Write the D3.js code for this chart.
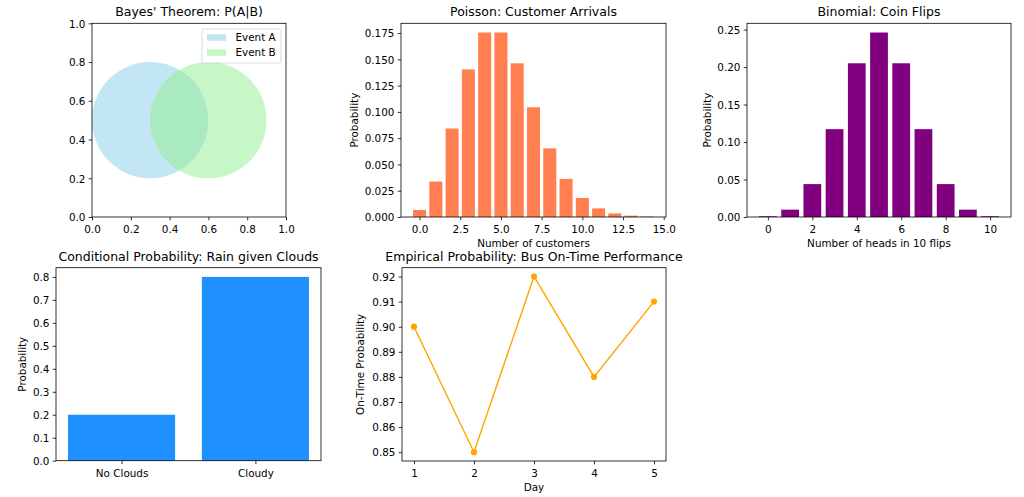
<!DOCTYPE html>
<html>
<head>
<meta charset="utf-8">
<script src="https://cdn.jsdelivr.net/npm/d3@7"></script>
<style>
  html, body { margin: 0; padding: 0; background: #fff; }
  svg { display: block; }
  text { font-family: "DejaVu Sans", sans-serif; fill: #000; }
</style>
</head>
<body>
<svg id="chart" width="1024" height="497"></svg>
<script>
// ---------- DATA ----------
// Venn (Bayes)
const vennLabels = ["Event A", "Event B"];
const vennCx = [0.3, 0.6];
const vennCy = [0.5, 0.5];
const vennR = [0.3, 0.3];
const vennColors = ["#87CEEB", "#90EE90"];
const vennTicks = [0, 0.2, 0.4, 0.6, 0.8, 1.0];

// Poisson
const poissonK = [0,1,2,3,4,5,6,7,8,9,10,11,12,13,14];
const poissonP = [0.0067,0.0337,0.0842,0.1404,0.1755,0.1755,0.1462,0.1044,0.0653,0.0363,0.0181,0.0082,0.0034,0.0013,0.0005];
const poissonXTicks = [0, 2.5, 5, 7.5, 10, 12.5, 15];
const poissonYTicks = [0, 0.025, 0.05, 0.075, 0.1, 0.125, 0.15, 0.175];

// Binomial
const binomK = [0,1,2,3,4,5,6,7,8,9,10];
const binomP = [0.00098,0.0098,0.0439,0.1172,0.2051,0.2461,0.2051,0.1172,0.0439,0.0098,0.00098];
const binomXTicks = [0, 2, 4, 6, 8, 10];
const binomYTicks = [0, 0.05, 0.10, 0.15, 0.20, 0.25];

// Conditional
const condCategories = ["No Clouds", "Cloudy"];
const condValues = [0.2, 0.8];
const condYTicks = [0, 0.1, 0.2, 0.3, 0.4, 0.5, 0.6, 0.7, 0.8];

// Empirical
const days = [1, 2, 3, 4, 5];
const onTime = [0.90, 0.85, 0.92, 0.88, 0.91];
const empYTicks = [0.85, 0.86, 0.87, 0.88, 0.89, 0.90, 0.91, 0.92];

// ---------- DRAW ----------
const svg = d3.select("#chart");
const TICK = 10.4, TITLE = 12.5, TL = 3.3, TP = 3.3;

function makeAxes(box, xDomain, yDomain, opts) {
  const g = svg.append("g");
  const x = d3.scaleLinear().domain(xDomain).range([box.x0, box.x1]);
  const y = d3.scaleLinear().domain(yDomain).range([box.y1, box.y0]);
  const plot = g.append("g");
  // x axis
  const xa = g.append("g").attr("transform", `translate(0,${box.y1})`)
    .call(d3.axisBottom(x).tickValues(opts.xTicks).tickFormat(opts.xFmt)
      .tickSizeInner(TL).tickSizeOuter(0).tickPadding(TP));
  xa.select(".domain").remove();
  xa.selectAll("line").attr("stroke", "#000").attr("stroke-width", 0.8);
  xa.selectAll("text").attr("font-size", TICK).attr("dy", null).attr("y", 16.3)
    .attr("font-family", "DejaVu Sans").attr("fill", "#000");
  // y axis
  const ya = g.append("g").attr("transform", `translate(${box.x0},0)`)
    .call(d3.axisLeft(y).tickValues(opts.yTicks).tickFormat(opts.yFmt)
      .tickSizeInner(TL).tickSizeOuter(0).tickPadding(TP));
  ya.select(".domain").remove();
  ya.selectAll("line").attr("stroke", "#000").attr("stroke-width", 0.8);
  ya.selectAll("text").attr("font-size", TICK).attr("dy", "0.36em")
    .attr("font-family", "DejaVu Sans").attr("fill", "#000");
  // frame
  g.append("rect").attr("x", box.x0).attr("y", box.y0)
    .attr("width", box.x1 - box.x0).attr("height", box.y1 - box.y0)
    .attr("fill", "none").attr("stroke", "#000").attr("stroke-width", 0.8);
  // title
  g.append("text").attr("x", (box.x0 + box.x1) / 2).attr("y", box.y0 - 7)
    .attr("text-anchor", "middle").attr("font-size", TITLE).text(opts.title);
  if (opts.xlabel) {
    g.append("text").attr("x", (box.x0 + box.x1) / 2).attr("y", box.y1 + 30)
      .attr("text-anchor", "middle").attr("font-size", TICK).text(opts.xlabel);
  }
  if (opts.ylabel) {
    const cx = box.x0 - opts.ylabelOff, cy = (box.y0 + box.y1) / 2;
    g.append("text").attr("transform", `translate(${cx},${cy}) rotate(-90)`)
      .attr("dy", "0.3em").attr("text-anchor", "middle").attr("font-size", TICK).text(opts.ylabel);
  }
  return { g, plot, x, y };
}

// 1. Venn
{
  const box = { x0: 92, x1: 286, y0: 23.3, y1: 217 };
  const { g, plot, x, y } = makeAxes(box, [0, 1], [0, 1], {
    xTicks: vennTicks, yTicks: vennTicks, xFmt: d3.format(".1f"), yFmt: d3.format(".1f"),
    title: "Bayes' Theorem: P(A|B)"
  });
  plot.selectAll("circle").data(vennCx).join("circle")
    .attr("cx", d => x(d)).attr("cy", (d, i) => y(vennCy[i]))
    .attr("r", (d, i) => x(vennR[i]) - x(0))
    .attr("fill", (d, i) => vennColors[i]).attr("fill-opacity", 0.5);
  // legend
  const lg = g.append("g");
  lg.append("rect").attr("x", 202).attr("y", 29).attr("width", 79).attr("height", 34)
    .attr("rx", 2).attr("fill", "#fff").attr("fill-opacity", 0.8)
    .attr("stroke", "#d0d0d0").attr("stroke-width", 0.8);
  vennLabels.forEach((lab, i) => {
    const cy = 37.5 + i * 15;
    lg.append("rect").attr("x", 207).attr("y", cy - 3.3).attr("width", 19).attr("height", 6.6)
      .attr("fill", vennColors[i]).attr("fill-opacity", 0.5);
    lg.append("text").attr("x", 235.5).attr("y", cy).attr("dy", "0.36em")
      .attr("font-size", TICK).text(lab);
  });
}

// 2. Poisson
{
  const box = { x0: 401, x1: 666, y0: 23.3, y1: 217 };
  const { plot, x, y } = makeAxes(box, [-1.14, 15.14], [0, 0.1755 * 1.05], {
    xTicks: poissonXTicks, yTicks: poissonYTicks, xFmt: d3.format(".1f"), yFmt: d3.format(".3f"),
    title: "Poisson: Customer Arrivals", xlabel: "Number of customers", ylabel: "Probability", ylabelOff: 46
  });
  plot.selectAll("rect").data(poissonK).join("rect")
    .attr("x", d => x(d - 0.4)).attr("width", d => x(d + 0.4) - x(d - 0.4))
    .attr("y", (d, i) => y(poissonP[i])).attr("height", (d, i) => y(0) - y(poissonP[i]))
    .attr("fill", "#FF7F50").attr("stroke", "#fff").attr("stroke-width", 0.9)
    .style("paint-order", "stroke");
}

// 3. Binomial
{
  const box = { x0: 747, x1: 1011, y0: 23.3, y1: 217 };
  const { plot, x, y } = makeAxes(box, [-0.94, 10.94], [0, 0.2461 * 1.05], {
    xTicks: binomXTicks, yTicks: binomYTicks, xFmt: d3.format("d"), yFmt: d3.format(".2f"),
    title: "Binomial: Coin Flips", xlabel: "Number of heads in 10 flips", ylabel: "Probability", ylabelOff: 38.7
  });
  plot.selectAll("rect").data(binomK).join("rect")
    .attr("x", d => x(d - 0.4)).attr("width", d => x(d + 0.4) - x(d - 0.4))
    .attr("y", (d, i) => y(binomP[i])).attr("height", (d, i) => y(0) - y(binomP[i]))
    .attr("fill", "#800080").attr("stroke", "#fff").attr("stroke-width", 0.9)
    .style("paint-order", "stroke");
}

// 4. Conditional
{
  const box = { x0: 56, x1: 321, y0: 267.7, y1: 460.7 };
  const idx = condCategories.map((c, i) => i);
  const { plot, x, y } = makeAxes(box, [-0.49, 1.49], [0, 0.84], {
    xTicks: idx, yTicks: condYTicks, xFmt: i => condCategories[i], yFmt: d3.format(".1f"),
    title: "Conditional Probability: Rain given Clouds", ylabel: "Probability", ylabelOff: 32.7
  });
  plot.selectAll("rect").data(idx).join("rect")
    .attr("x", d => x(d - 0.4)).attr("width", d => x(d + 0.4) - x(d - 0.4))
    .attr("y", d => y(condValues[d])).attr("height", d => y(0) - y(condValues[d]))
    .attr("fill", "#1E90FF");
}

// 5. Empirical
{
  const box = { x0: 402, x1: 666, y0: 267.7, y1: 461 };
  const { plot, x, y } = makeAxes(box, [0.8, 5.2], [0.8465, 0.9235], {
    xTicks: days, yTicks: empYTicks, xFmt: d3.format("d"), yFmt: d3.format(".2f"),
    title: "Empirical Probability: Bus On-Time Performance", xlabel: "Day", ylabel: "On-Time Probability", ylabelOff: 41.3
  });
  const line = d3.line().x((d, i) => x(days[i])).y(d => y(d));
  plot.append("path").datum(onTime).attr("d", line)
    .attr("fill", "none").attr("stroke", "#FFA500").attr("stroke-width", 1.4);
  plot.selectAll("circle").data(onTime).join("circle")
    .attr("cx", (d, i) => x(days[i])).attr("cy", d => y(d)).attr("r", 3.1)
    .attr("fill", "#FFA500");
}
</script>
</body>
</html>
